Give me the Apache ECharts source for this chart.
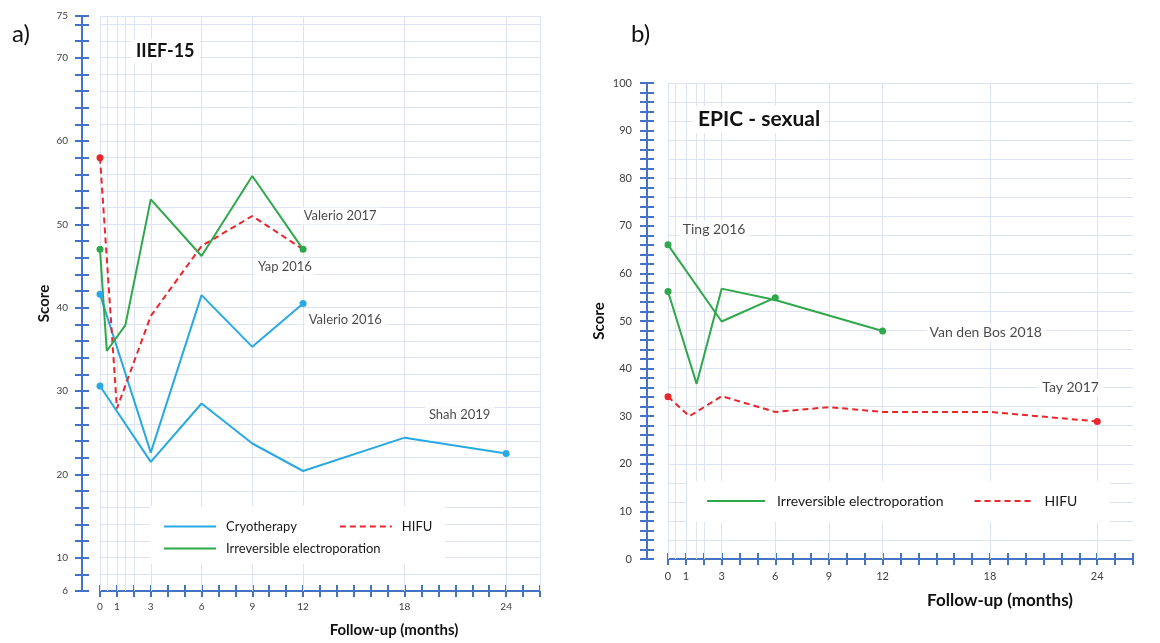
<!DOCTYPE html>
<html><head><meta charset="utf-8">
<script src="https://cdn.jsdelivr.net/npm/echarts@6/dist/echarts.min.js"></script>
<style>html,body{margin:0;padding:0;background:#fff}#c{width:1160px;height:643px}</style>
</head><body><div id="c"></div>
<script>
// ---------- Panel a: IIEF-15 ----------
const aYTickLabels = [6, 10, 20, 30, 40, 50, 60, 70, 75];
const aXTickLabels = [0, 1, 3, 6, 9, 12, 18, 24];
const aGridMonths = [0, 0.45, 1, 1.5, 2, 3, 6, 9, 12, 18, 24, 26];

const aValerio2016Months = [0, 3, 6, 9, 12];
const aValerio2016Score  = [41.6, 22.6, 41.5, 35.3, 40.5];
const aShah2019Months    = [0, 3, 6, 9, 12, 18, 24];
const aShah2019Score     = [30.6, 21.5, 28.5, 23.7, 20.4, 24.4, 22.5];
const aValerio2017Months = [0, 0.4, 1.5, 3, 6, 9, 12];
const aValerio2017Score  = [47, 34.8, 37.9, 53, 46.2, 55.8, 47];
const aYap2016Months     = [0, 1, 3, 6, 9, 12];
const aYap2016Score      = [58, 27.9, 39, 47.4, 51, 47];

const aStudyNames  = ['Valerio 2017', 'Yap 2016', 'Valerio 2016', 'Shah 2019'];
const aStudyMonth  = [11.8, 9.1, 12.1, 19.2];
const aStudyScore  = [51, 44.9, 38.6, 27.15];

// ---------- Panel b: EPIC - sexual ----------
const bYTickLabels = [0, 10, 20, 30, 40, 50, 60, 70, 80, 90, 100];
const bXTickLabels = [0, 1, 3, 6, 9, 12, 18, 24];
const bGridMonths = [0, 0.4, 1, 1.6, 2, 3, 6, 9, 12, 18, 24];

const bTing2016Months   = [0, 3, 6];
const bTing2016Score    = [66, 49.9, 54.9];
const bVdBos2018Months  = [0, 1.6, 3, 6, 12];
const bVdBos2018Score   = [56.2, 36.8, 56.8, 54.4, 47.9];
const bTay2017Months    = [0, 1.2, 3, 6, 9, 12, 18, 24];
const bTay2017Score     = [34.1, 30, 34.2, 30.9, 31.9, 30.9, 30.9, 28.9];

const bStudyNames = ['Ting 2016', 'Van den Bos 2018', 'Tay 2017'];
const bStudyMonth = [0.6, 14.4, 20.7];
const bStudyScore = [69.2, 47.6, 36.1];

// ---------- styling ----------
const AXIS = '#4472C4', GRIDC = '#dde3f3', BLUE = '#29A9E1', GREEN = '#2EA84B', RED = '#E8262B';
const FONT = 'Lato';

const pts = (xs, ys) => xs.map((x, i) => [x, ys[i]]);

function lineSeries(name, xs, ys, color, dashed, xi, yi, dots) {
  return {
    type: 'line', name, xAxisIndex: xi, yAxisIndex: yi,
    data: pts(xs, ys),
    symbol: 'circle', showAllSymbol: true,
    symbolSize: (v, p) => dots.includes(p.dataIndex) ? 7 : 0,
    itemStyle: { color },
    lineStyle: { color, width: 2, type: dashed ? [6, 4] : 'solid' },
    emphasis: { disabled: true }, z: 3, silent: true
  };
}
function gridLines(xi, yi, months) {
  return {
    type: 'line', name: 'grid' + xi, xAxisIndex: xi, yAxisIndex: yi, data: [], z: 1, silent: true,
    markLine: {
      z: 1, silent: true, symbol: ['none', 'none'], label: { show: false }, animation: false,
      lineStyle: { color: GRIDC, width: 1, type: 'solid' },
      emphasis: { disabled: true },
      data: months.map(m => ({ xAxis: m }))
    }
  };
}
function annot(xi, yi, names, xs, ys, size) {
  return {
    type: 'scatter', name: 'annot' + xi, xAxisIndex: xi, yAxisIndex: yi, z: 4, silent: true,
    symbolSize: 0,
    data: names.map((n, i) => [xs[i], ys[i], n]),
    label: {
      show: true, position: 'inside', align: 'left', verticalAlign: 'middle',
      formatter: p => p.value[2], fontFamily: FONT, fontSize: size, color: '#1a1a1a',
      backgroundColor: '#fff', padding: [2, 4]
    }
  };
}
function xAxes(grid, max, labels, fs, margin, name, nameGap, nameSize, namePad) {
  return [{
    gridIndex: grid, type: 'value', min: 0, max: max, interval: 1, position: 'bottom',
    axisLine: { onZero: false, lineStyle: { color: AXIS, width: 2 } },
    axisTick: { show: true, length: 6, lineStyle: { color: AXIS, width: 2 } },
    axisLabel: { formatter: v => labels.includes(v) ? String(v) : '', fontSize: fs, color: '#404040', margin: margin, fontFamily: FONT },
    splitLine: { show: false },
    name: name, nameLocation: 'middle', nameGap: nameGap,
    nameTextStyle: { fontFamily: FONT, fontWeight: 'bold', fontSize: nameSize, color: '#111', padding: [0, 0, 0, namePad] }
  }, {
    gridIndex: grid, type: 'value', min: 0, max: max, interval: 1, position: 'bottom',
    axisLine: { show: false, onZero: false },
    axisTick: { show: true, inside: true, length: 6, lineStyle: { color: AXIS, width: 2 } },
    axisLabel: { show: false }, splitLine: { show: false }
  }];
}
function yAxes(grid, min, max, offset, labels, fs, margin, nameGap, showSplit) {
  return [{
    gridIndex: grid, type: 'value', min, max, interval: 2, position: 'left', offset,
    axisLine: { show: true, onZero: false, lineStyle: { color: AXIS, width: 2 } },
    axisTick: { show: true, length: 7, lineStyle: { color: AXIS, width: 2 } },
    axisLabel: { formatter: v => labels.includes(v) ? String(v) : '', fontSize: fs, color: '#404040', margin: margin, fontFamily: FONT },
    splitLine: { show: showSplit, lineStyle: { color: GRIDC, width: 1 } },
    name: 'Score', nameLocation: 'middle', nameGap: nameGap, nameRotate: 90,
    nameTextStyle: { fontFamily: FONT, fontWeight: 'bold', fontSize: 15, color: '#111' }
  }, {
    gridIndex: grid, type: 'value', min, max, interval: 2, position: 'left', offset,
    axisLine: { show: false, onZero: false },
    axisTick: { show: true, inside: true, length: 7, lineStyle: { color: AXIS, width: 2 } },
    axisLabel: { show: false }, splitLine: { show: false }
  }];
}

const chart = echarts.init(document.getElementById('c'));
const option = {
  animation: false,
  backgroundColor: '#fff',
  textStyle: { fontFamily: FONT },
  grid: [
    { left: 100, top: 16, width: 440, height: 581 },
    { left: 668, top: 83, width: 465, height: 476 }
  ],
  xAxis: [
    ...xAxes(0, 26, aXTickLabels, 10, 11, 'Follow-up (months)', 32, 15, 148),
    ...xAxes(1, 26, bXTickLabels, 11, 12, 'Follow-up (months)', 33, 17, 199)
  ],
  yAxis: [
    ...yAxes(0, 6, 75, 18, aYTickLabels, 10, 14, 30, true),
    ...yAxes(1, 0, 100, 21, bYTickLabels, 11, 15, 40, false),
    { gridIndex: 1, type: 'value', min: 0, max: 100, interval: 4, axisLine: { show: false, onZero: false }, axisTick: { show: false },
      axisLabel: { show: false }, splitLine: { show: true, lineStyle: { color: GRIDC, width: 1 } } }
  ],
  title: [
    { text: 'a)', left: 12, top: 22, padding: 0, textStyle: { fontFamily: FONT, fontSize: 24, fontWeight: 'normal', color: '#111' } },
    { text: 'b)', left: 631, top: 22, padding: 0, textStyle: { fontFamily: FONT, fontSize: 24, fontWeight: 'normal', color: '#111' } },
    { text: 'IIEF-15', left: 131, top: 39, padding: [3, 5], backgroundColor: '#fff', textStyle: { fontFamily: FONT, fontSize: 18, fontWeight: 'bold', color: '#111' } },
    { text: 'EPIC - sexual', left: 693, top: 106, padding: [3, 5], backgroundColor: '#fff', textStyle: { fontFamily: FONT, fontSize: 21, fontWeight: 'bold', color: '#111' } }
  ],
  graphic: [
    { type: 'rect', z: 2, shape: { x: 150, y: 506, width: 295, height: 58 }, style: { fill: '#fff' }, silent: true },
    { type: 'rect', z: 2, shape: { x: 687, y: 481, width: 423, height: 41 }, style: { fill: '#fff' }, silent: true }
  ],
  legend: [
    { data: ['Cryotherapy', 'HIFU'], left: 163, top: 520, padding: 0, itemWidth: 52, itemHeight: 14, itemGap: 42, z: 6,
      itemStyle: { opacity: 0 }, selectedMode: false, textStyle: { fontFamily: FONT, fontSize: 13, color: '#1a1a1a', padding: [0, 0, 0, 5] } },
    { data: ['Irreversible electroporation'], left: 163, top: 542, padding: 0, itemWidth: 52, itemHeight: 14, z: 6,
      itemStyle: { opacity: 0 }, selectedMode: false, textStyle: { fontFamily: FONT, fontSize: 13, color: '#1a1a1a', padding: [0, 0, 0, 5] } },
    { data: ['Irreversible electroporation', 'HIFU'], left: 706, top: 494, padding: 0, itemWidth: 58, itemHeight: 14, itemGap: 30, z: 6,
      itemStyle: { opacity: 0 }, selectedMode: false, textStyle: { fontFamily: FONT, fontSize: 14, color: '#1a1a1a', padding: [0, 0, 0, 7] } }
  ],
  series: [
    gridLines(0, 0, aGridMonths),
    gridLines(2, 2, bGridMonths),
    lineSeries('Cryotherapy', aValerio2016Months, aValerio2016Score, BLUE, false, 0, 0, [0, aValerio2016Months.length - 1]),
    lineSeries('Cryotherapy', aShah2019Months, aShah2019Score, BLUE, false, 0, 0, [0, aShah2019Months.length - 1]),
    lineSeries('HIFU', aYap2016Months, aYap2016Score, RED, true, 0, 0, [0]),
    lineSeries('Irreversible electroporation', aValerio2017Months, aValerio2017Score, GREEN, false, 0, 0, [0, aValerio2017Months.length - 1]),
    lineSeries('Irreversible electroporation', bTing2016Months, bTing2016Score, GREEN, false, 2, 2, [0, bTing2016Months.length - 1]),
    lineSeries('Irreversible electroporation', bVdBos2018Months, bVdBos2018Score, GREEN, false, 2, 2, [0, bVdBos2018Months.length - 1]),
    lineSeries('HIFU', bTay2017Months, bTay2017Score, RED, true, 2, 2, [0, bTay2017Months.length - 1]),
    annot(0, 0, aStudyNames, aStudyMonth, aStudyScore, 13),
    annot(2, 2, bStudyNames, bStudyMonth, bStudyScore, 14)
  ]
};
chart.setOption(option);
</script></body></html>
